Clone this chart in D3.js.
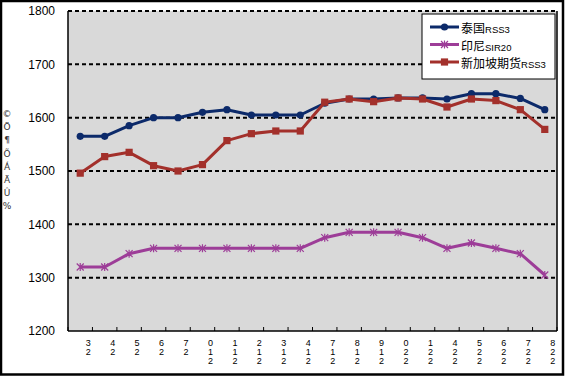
<!DOCTYPE html>
<html>
<head>
<meta charset="utf-8">
<script src="https://cdn.jsdelivr.net/npm/d3@7"></script>
<style>
  html, body { margin: 0; padding: 0; background: #fff; }
  svg { display: block; }
</style>
</head>
<body>
<svg id="chart" width="565" height="377"></svg>
<script>
// --- data ---
const categories = ["32", "42", "52", "62", "72", "012", "112", "212", "312", "412",
                    "712", "812", "912", "022", "122", "422", "522", "622", "722", "822"];
const thaiRSS3 = [1565, 1565, 1585, 1600, 1600, 1610, 1615, 1605, 1605, 1605,
                  1627, 1635, 1635, 1637, 1637, 1635, 1645, 1645, 1636, 1615];
const indoSIR20 = [1320, 1320, 1345, 1355, 1355, 1355, 1355, 1355, 1355, 1355,
                   1375, 1385, 1385, 1385, 1375, 1355, 1365, 1355, 1345, 1305];
const sgxRSS3 = [1496, 1527, 1535, 1510, 1500, 1512, 1557, 1570, 1575, 1575,
                 1629, 1635, 1630, 1637, 1635, 1620, 1635, 1632, 1615, 1578];
const yTicks = [1200, 1300, 1400, 1500, 1600, 1700, 1800];
const yTitle = "©Ö¶ÕÁÄÛ%";

const series = [
  { cjk: "泰国", latin: "RSS3", values: thaiRSS3, color: "#0c2a6a", marker: "circle" },
  { cjk: "印尼", latin: "SIR20", values: indoSIR20, color: "#9d3d98", marker: "star" },
  { cjk: "新加坡期货", latin: "RSS3", values: sgxRSS3, color: "#a3302b", marker: "square" }
];

// --- layout ---
const svg = d3.select("#chart");
const W = 565, H = 377;
const plot = { left: 68, right: 557, top: 11, bottom: 331 };

const x = d3.scaleBand().domain(d3.range(categories.length)).range([plot.left, plot.right]);
const y = d3.scaleLinear().domain([1200, 1800]).range([plot.bottom, plot.top]);

// plot background
svg.append("rect")
  .attr("x", plot.left).attr("y", plot.top)
  .attr("width", plot.right - plot.left).attr("height", plot.bottom - plot.top)
  .attr("fill", "#d9d9d9");

// dashed gridlines
svg.append("g").selectAll("line")
  .data(yTicks.filter(d => d > 1200))
  .join("line")
  .attr("x1", plot.left).attr("x2", plot.right)
  .attr("y1", d => y(d)).attr("y2", d => y(d))
  .attr("stroke", "#000").attr("stroke-width", 2)
  .attr("stroke-dasharray", "4,3");

// right border + axes
svg.append("line").attr("x1", plot.right).attr("x2", plot.right)
  .attr("y1", plot.top).attr("y2", plot.bottom).attr("stroke", "#000").attr("stroke-width", 1.5);
svg.append("line").attr("x1", plot.left).attr("x2", plot.left)
  .attr("y1", plot.top).attr("y2", plot.bottom).attr("stroke", "#000").attr("stroke-width", 1.5);
svg.append("line").attr("x1", plot.left).attr("x2", plot.right)
  .attr("y1", plot.bottom).attr("y2", plot.bottom).attr("stroke", "#000").attr("stroke-width", 1.5);

// y tick labels
svg.append("g").selectAll("text")
  .data(yTicks)
  .join("text")
  .attr("x", 55).attr("y", d => y(d)).attr("dy", "0.35em")
  .attr("text-anchor", "end")
  .style("font-family", "'Liberation Sans', Arial, sans-serif")
  .style("font-size", "12px")
  .attr("fill", "#000")
  .text(d => d);

// y title, stacked characters
svg.append("g").selectAll("text")
  .data(Array.from(yTitle))
  .join("text")
  .attr("x", 7).attr("y", (d, i) => 117 + i * 13.2)
  .attr("text-anchor", "middle")
  .style("font-family", "'DejaVu Sans', sans-serif")
  .style("font-size", "9px")
  .attr("fill", "#333")
  .text(d => d);

// x ticks (at band boundaries, pointing up)
const bounds = d3.range(categories.length + 1).map(i => plot.left + i * x.step());
svg.append("g").selectAll("line")
  .data(bounds)
  .join("line")
  .attr("x1", d => d).attr("x2", d => d)
  .attr("y1", plot.bottom).attr("y2", plot.bottom - 4)
  .attr("stroke", "#000").attr("stroke-width", 1);

// x labels, one character per row
const xl = svg.append("g").selectAll("g")
  .data(categories)
  .join("g");
xl.each(function(d, i) {
  const cx = x(i) + x.bandwidth() / 2 + 8;
  d3.select(this).selectAll("text")
    .data(Array.from(d))
    .join("text")
    .attr("x", cx).attr("y", (ch, j) => 346 + j * 9)
    .attr("text-anchor", "middle")
    .style("font-family", "'Liberation Sans', Arial, sans-serif")
    .style("font-size", "9px")
    .attr("fill", "#000")
    .text(ch => ch);
});

// --- series ---
const line = d3.line().x((d, i) => x(i) + x.bandwidth() / 2).y(d => y(d));

function drawMarker(g, type, color, cx, cy) {
  if (type === "circle") {
    g.append("circle").attr("cx", cx).attr("cy", cy).attr("r", 3.6).attr("fill", color);
  } else if (type === "square") {
    g.append("rect").attr("x", cx - 3.6).attr("y", cy - 3.6).attr("width", 7.2).attr("height", 7.2).attr("fill", color);
  } else {
    const s = 3.5;
    g.append("path")
      .attr("d", `M${cx - s},${cy - s}L${cx + s},${cy + s}M${cx - s},${cy + s}L${cx + s},${cy - s}M${cx},${cy - s - 0.5}L${cx},${cy + s + 0.5}`)
      .attr("stroke", color).attr("stroke-width", 1.2).attr("fill", "none");
  }
}

series.forEach(s => {
  const g = svg.append("g");
  g.append("path").datum(s.values)
    .attr("d", line)
    .attr("fill", "none").attr("stroke", s.color).attr("stroke-width", 3)
    .attr("stroke-linejoin", "round");
  s.values.forEach((v, i) => drawMarker(g, s.marker, s.color, x(i) + x.bandwidth() / 2, y(v)));
});

// --- legend ---
const lg = svg.append("g");
lg.append("rect").attr("x", 422).attr("y", 14).attr("width", 133).attr("height", 65)
  .attr("fill", "#fff").attr("stroke", "#000").attr("stroke-width", 1);
series.forEach((s, i) => {
  const ly = 27 + i * 17.5;
  lg.append("line").attr("x1", 430).attr("x2", 459).attr("y1", ly).attr("y2", ly)
    .attr("stroke", s.color).attr("stroke-width", 3);
  drawMarker(lg, s.marker, s.color, 444.5, ly);
  const t = lg.append("text").attr("x", 461).attr("y", ly).attr("dy", "0.38em")
    .attr("fill", "#000");
  t.append("tspan").style("font-family", "'Noto Sans CJK SC', sans-serif").style("font-size", "12px").text(s.cjk);
  t.append("tspan").style("font-family", "'Liberation Sans', Arial, sans-serif").style("font-size", "9.5px").text(s.latin);
});

// outer frame
svg.append("rect").attr("x", 1).attr("y", 1).attr("width", W - 3).attr("height", H - 3.5)
  .attr("fill", "none").attr("stroke", "#000").attr("stroke-width", 2.5);
</script>
</body>
</html>
